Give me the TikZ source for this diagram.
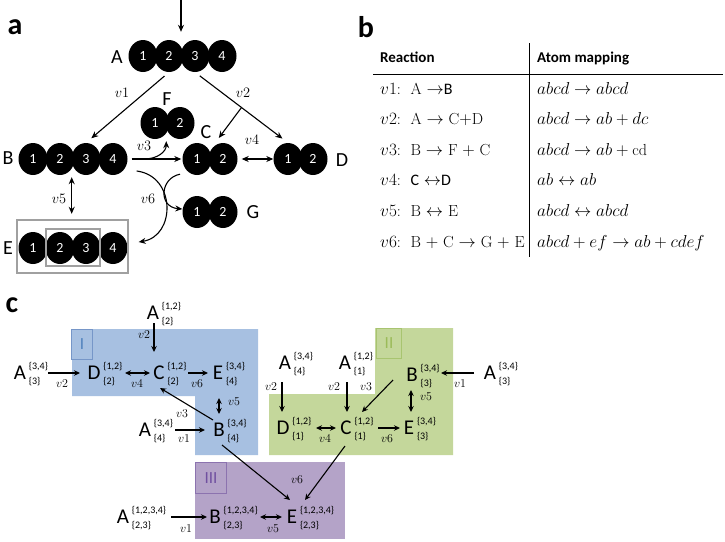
\documentclass[tikz,border=0pt]{standalone}
\usepackage{fontspec}
\newfontfamily\calib{Carlito}
\usetikzlibrary{arrows.meta,shapes.geometric,calc}
\definecolor{regI}{RGB}{167,192,225}
\definecolor{regIedge}{RGB}{118,150,200}
\definecolor{regItext}{RGB}{79,129,189}
\definecolor{regII}{RGB}{196,215,155}
\definecolor{regIIedge}{RGB}{168,196,112}
\definecolor{regIItext}{RGB}{155,187,89}
\definecolor{regIII}{RGB}{180,163,200}
\definecolor{regIIIedge}{RGB}{140,115,175}
\definecolor{regIIItext}{RGB}{112,80,160}
\definecolor{frame}{RGB}{160,160,160}
\newcommand\supsub[2]{\begin{tabular}{@{}l@{}}\{#1\}\\\{#2\}\end{tabular}}
\begin{document}
\begin{tikzpicture}[x=1pt,y=-1pt,
  atom/.style={ellipse, fill=black, text=white, minimum width=29pt, minimum height=32pt, inner sep=0pt, font=\calib\fontsize{14}{14}\selectfont},
  mol/.style={font=\calib\fontsize{20}{20}\selectfont, inner sep=1pt},
  panel/.style={font=\calib\bfseries\fontsize{30}{30}\selectfont, inner sep=0pt},
  arr/.style={-{Stealth[length=7pt,width=6pt]}, line width=1.1pt},
  darr/.style={{Stealth[length=7pt,width=6pt]}-{Stealth[length=7pt,width=6pt]}, line width=1.1pt},
  carr/.style={-{Stealth[length=6pt,width=5.5pt]}, line width=1.1pt},
  cdarr/.style={{Stealth[length=6pt,width=5.5pt]}-{Stealth[length=6pt,width=5.5pt]}, line width=1.1pt},
  vl/.style={font=\fontsize{15}{15}\selectfont, inner sep=0pt},
  vc/.style={font=\fontsize{12.5}{12.5}\selectfont, inner sep=0pt},
  met/.style={font=\calib\fontsize{21}{21}\selectfont, inner sep=0pt, text height=13.5pt, text depth=0pt},
  scr/.style={font=\calib\fontsize{10}{14.5}\selectfont, inner sep=0pt, xshift=2.5pt, yshift=-1pt},
  tb/.style={font=\fontsize{16}{16}\selectfont, anchor=base west, inner sep=0pt},
  th/.style={font=\calib\bfseries\fontsize{15}{15}\selectfont, anchor=base west, inner sep=0pt},
  rbox/.style={line width=1pt, anchor=north west, inner sep=0pt, font=\calib\fontsize{17}{17}\selectfont},
]
\useasboundingbox (0,0) rectangle (725,541);

%%%%%%%%%%%%%%%% panel a
\node[panel] (pa) at (15,27) {a};
\foreach \i/\x in {1/143,2/169,3/195,4/222}{\node[atom] (A\i) at (\x,56) {\i};}
\node[mol] (lA) at (117,57) {A};
\foreach \i/\x in {1/33,2/60,3/86,4/113}{\node[atom] (B\i) at (\x,159) {\i};}
\node[mol] (lB) at (8,158) {B};
\foreach \i/\x in {1/33,2/60,3/86,4/113}{\node[atom] (E\i) at (\x,248) {\i};}
\node[mol] (lE) at (8,248) {E};
\node[atom] (F1) at (155,123) {1}; \node[atom] (F2) at (180,123) {2};
\node[mol] (lF) at (167,99) {F};
\node[atom] (C1) at (197,159) {1}; \node[atom] (C2) at (223,159) {2};
\node[mol] (lC) at (206,132) {C};
\node[atom] (D1) at (288,159) {1}; \node[atom] (D2) at (313,159) {2};
\node[mol] (lD) at (342,160) {D};
\node[atom] (G1) at (197,212) {1}; \node[atom] (G2) at (223,212) {2};
\node[mol] (lG) at (253,212) {G};
\draw[frame, line width=2pt] (17,220) rectangle (128,273);
\draw[frame, line width=1.5pt] (46,229) rectangle (100,266);

\coordinate (top) at (181,0);
\draw[arr, shorten >=8pt] (top) -- (top |- A2.north);
\draw[arr, shorten <=6pt, shorten >=7pt] (A2.south) -- (B3.north);
\draw[arr, shorten <=6pt, shorten >=7pt] (A3.south) -- coordinate[pos=0.5] (br) (D1.north);
\draw[arr, shorten >=6pt] (br) -- ($(C1.north)!0.7!(C2.north)$);
\draw[arr, shorten <=4pt, shorten >=1pt] (B4.east) -- coordinate[pos=0.3] (v3b) (C1.west);
\draw[arr, shorten >=2pt] (v3b) .. controls +(14,0) and +(0,12) .. ($(F1.south)!0.45!(F2.south)$);
\draw[darr, shorten <=4pt] (C2.east) -- (D1.west);
\draw[darr, shorten <=2pt, shorten >=18pt] ($(B2.south)!0.45!(B3.south)$) -- ($(E2.north)!0.45!(E3.north)$);
\draw[arr] ($(B4.east)+(9,12)$) .. controls (176,176) and (176,236) .. ($(E4.east)+(11,-6)$);
\draw[arr] ($(C1.south)+(-17,-1)$) .. controls (160,178) and (158,207) .. ($(G1.west)+(0,-3)$);

\node[vl] (v1a) at (122,93) {$v1$};
\node[vl] (v2a) at (243,93) {$v2$};
\node[vl] (v3a) at (144,146) {$v3$};
\node[vl] (v4a) at (252,140) {$v4$};
\node[vl] (v5a) at (59,199) {$v5$};
\node[vl] (v6a) at (148,199) {$v6$};

%%%%%%%%%%%%%%%% panel b
\node[panel] (pb) at (366,27) {b};
\draw[line width=1pt] (529,43) -- (529,257);
\draw[line width=1pt] (373,74) -- (723,74);
\node[th] (h1) at (380,62) {Reaction};
\node[th] (h2) at (537,62) {Atom mapping};
\node[tb] (r1) at (380,94) {$v1$:\ \ A $\rightarrow${\calib B}};
\node[tb] (r2) at (380,124) {$v2$:\ \ A $\rightarrow$ C$+$D};
\node[tb] (r3) at (380,155) {$v3$:\ \ B $\rightarrow$ F $+$ C};
\node[tb] (r4) at (380,185) {$v4$:\ \ {\calib C} $\leftrightarrow${\calib D}};
\node[tb] (r5) at (380,216) {$v5$:\ \ B $\leftrightarrow$ E};
\node[tb] (r6) at (380,247) {$v6$:\ \ B $+$ C $\rightarrow$ G $+$ E};
\node[tb] (m1) at (537,94) {$abcd \rightarrow abcd$};
\node[tb] (m2) at (537,124) {$abcd \rightarrow ab + dc$};
\node[tb] (m3) at (537,155) {$abcd \rightarrow ab + \mathrm{cd}$};
\node[tb] (m4) at (537,185) {$ab \leftrightarrow ab$};
\node[tb] (m5) at (537,216) {$abcd \leftrightarrow abcd$};
\node[tb] (m6) at (537,247) {$abcd + ef \rightarrow ab + cdef$};

%%%%%%%%%%%%%%%% panel c
\node[panel] (pc) at (12,305) {c};
\fill[regI] (72,329) -- (258,329) -- (258,455) -- (195,455) -- (195,396) -- (72,396) -- cycle;
\fill[regII] (375,328) -- (453,328) -- (453,455) -- (269,455) -- (269,394) -- (375,394) -- cycle;
\fill[regIII] (195,462) rectangle (345,539);
\node[rbox, draw=regIedge, text=regItext, minimum width=21pt, minimum height=30pt] (bI) at (71,329) {I};
\node[rbox, draw=regIIedge, text=regIItext, minimum width=25pt, minimum height=30pt] (bII) at (376,328) {II};
\node[rbox, draw=regIIIedge, text=regIIItext, minimum width=31pt, minimum height=31pt] (bIII) at (195,462) {III};

% region I
\node[met, label={[scr]east:\supsub{1,2}{2}}] (cA12) at (153,313) {A};
\node[met, label={[scr]east:\supsub{3,4}{3}}] (cA34l) at (20,373) {A};
\node[met, label={[scr]east:\supsub{1,2}{2}}] (cD2) at (94,373) {D};
\node[met, label={[scr]east:\supsub{1,2}{2}}] (cC2) at (159,373) {C};
\node[met, label={[scr]east:\supsub{3,4}{4}}] (cE4) at (218,373) {E};
\node[met, label={[scr]east:\supsub{3,4}{4}}] (cB4) at (219,430) {B};
\node[met, label={[scr]east:\supsub{3,4}{4}}] (cA34b) at (145,430) {A};
% region II
\node[met, label={[scr]east:\supsub{3,4}{4}}] (cA34c) at (285,363) {A};
\node[met, label={[scr]east:\supsub{1,2}{1}}] (cA12b) at (345,363) {A};
\node[met, label={[scr]east:\supsub{3,4}{3}}] (cB3) at (412,375) {B};
\node[met, label={[scr]east:\supsub{3,4}{3}}] (cA34r) at (490,373) {A};
\node[met, label={[scr]east:\supsub{1,2}{1}}] (cD1) at (283,428) {D};
\node[met, label={[scr]east:\supsub{1,2}{1}}] (cC1) at (346,428) {C};
\node[met, label={[scr]east:\supsub{3,4}{3}}] (cE3) at (409,428) {E};
% region III
\node[met, label={[scr]east:\supsub{1,2,3,4}{2,3}}] (cA1234) at (123,517) {A};
\node[met, label={[scr]east:\supsub{1,2,3,4}{2,3}}] (cB23) at (215,517) {B};
\node[met, label={[scr]east:\supsub{1,2,3,4}{2,3}}] (cE23) at (292,517) {E};

\draw[carr] ($(cA34l)+(28,0)$) -- ($(cD2)+(-14,0)$);
\draw[cdarr] ($(cD2)+(31,0)$) -- ($(cC2)+(-9,0)$);
\draw[carr] ($(cC2)+(29,0)$) -- ($(cE4)+(-10,0)$);
\draw[carr] ($(cA12)+(1,10)$) -- ($(cC2)+(-5,-21)$);
\draw[cdarr] ($(cE4)+(1,25)$) -- ($(cB4)+(0,-16)$);
\draw[carr] ($(cB4)+(-6,-10)$) -- ($(cC2)+(1,15)$);
\draw[carr] ($(cA34b)+(30,0)$) -- ($(cB4)+(-14,0)$);
\draw[carr] ($(cB4)+(3,15)$) -- ($(cE23)+(-2,-17)$);
\draw[carr] ($(cC1)+(-1,18)$) -- ($(cE23)+(13,-17)$);
\draw[carr] ($(cA1234)+(48,0)$) -- ($(cB23)+(-8,0)$);
\draw[cdarr] ($(cB23)+(45,0)$) -- ($(cE23)+(-10,0)$);
\draw[carr] ($(cA34c)+(-3,19)$) -- ($(cD1)+(-1,-16)$);
\draw[carr] ($(cA12b)+(2,19)$) -- ($(cC1)+(1,-16)$);
\draw[carr] ($(cB3)+(-19,5)$) -- ($(cC1)+(16,-16)$);
\draw[cdarr] ($(cB3)+(-1,15)$) -- ($(cE3)+(2,-16)$);
\draw[carr] ($(cA34r)+(-16,0)$) -- ($(cB3)+(29,-2)$);
\draw[cdarr] ($(cD1)+(33,0)$) -- ($(cC1)+(-10,0)$);
\draw[carr] ($(cC1)+(32,0)$) -- ($(cE3)+(-9,0)$);

\node[vc] (cv1) at (62,384) {$v2$};
\node[vc] (cv2) at (137,384) {$v4$};
\node[vc] (cv3) at (197,384) {$v6$};
\node[vc] (cv4) at (144,335) {$v2$};
\node[vc] (cv5) at (234,402) {$v5$};
\node[vc] (cv6) at (182,414) {$v3$};
\node[vc] (cv7) at (184,439) {$v1$};
\node[vc] (cv8) at (271,387) {$v2$};
\node[vc] (cv9) at (334,387) {$v2$};
\node[vc] (cv10) at (366,387) {$v3$};
\node[vc] (cv11) at (426,397) {$v5$};
\node[vc] (cv12) at (460,384) {$v1$};
\node[vc] (cv13) at (325,439) {$v4$};
\node[vc] (cv14) at (387,439) {$v6$};
\node[vc] (cv15) at (297,480) {$v6$};
\node[vc] (cv16) at (186,529) {$v1$};
\node[vc] (cv17) at (273,529) {$v5$};
\end{tikzpicture}
\end{document}
